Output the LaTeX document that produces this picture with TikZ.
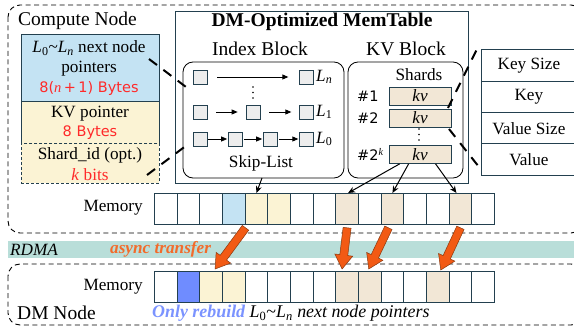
\documentclass[tikz,border=0pt]{standalone}
\usepackage{fontspec}
\setmainfont{Liberation Serif}
\newfontfamily\sfx{DejaVu Sans}
\usetikzlibrary{calc,arrows.meta}
\definecolor{edge}{HTML}{23404F}
\definecolor{bluebox}{HTML}{C4E3F3}
\definecolor{yell}{HTML}{FBF3D4}
\definecolor{beige}{HTML}{F2E7D6}
\definecolor{sqfill}{HTML}{EDEDED}
\definecolor{dmblue}{HTML}{6F8CFF}
\definecolor{rdma}{HTML}{B9DED9}
\definecolor{orangeA}{HTML}{F25A14}
\definecolor{orangeD}{HTML}{8A3A10}
\definecolor{redtxt}{HTML}{FF2A2A}
\definecolor{lightblue}{HTML}{7B93FF}
\definecolor{asyncor}{HTML}{F26B2B}
\newcommand\fH{\fontsize{19.5}{22}\selectfont}
\newcommand\fT{\fontsize{17.2}{20}\selectfont}
\newcommand\fB{\fontsize{17.9}{20}\selectfont}
\newcommand\fR{\fontsize{14.5}{17}\selectfont}
\newcommand\bigarrow[3]{%
  \coordinate (#3h) at ($(#2)!14pt!(#1)$);
  \fill[orangeA, draw=orangeD, line width=0.5pt, line join=miter]
   ($(#1)!4pt!90:(#2)$) -- ($(#3h)!4pt!-90:(#1)$) -- ($(#3h)!9pt!-90:(#1)$) -- (#2)
   -- ($(#3h)!9pt!90:(#1)$) -- ($(#3h)!4pt!90:(#1)$) -- ($(#1)!4pt!-90:(#2)$) -- cycle;
}
\tikzset{
  txt/.style={inner sep=0pt, font=\fT},
  head/.style={inner sep=0pt, font=\fH},
  redt/.style={inner sep=0pt, font=\sfx\fR, text=redtxt},
  box/.style={draw=edge, line width=0.8pt, inner sep=0pt, anchor=north west},
  blk/.style={draw=black, line width=0.8pt, rounded corners=10pt},
  sqr/.style={draw=edge, fill=sqfill, line width=0.7pt, minimum size=14pt, inner sep=0pt},
  cell/.style={draw=edge, line width=0.8pt, minimum width=22.67pt, minimum height=31pt, inner sep=0pt, anchor=north west, fill=white},
  kvbox/.style={draw=edge, fill=beige, line width=0.8pt, minimum width=62pt, minimum height=18pt, inner sep=0pt, font=\fT\itshape},
  sarr/.style={-{Triangle[length=6pt,width=5pt]}, line width=0.8pt},
  marr/.style={-{Stealth[length=7pt,width=6pt]}, line width=1pt},
  zoomline/.style={line width=2pt, dash pattern=on 10pt off 8pt},
  outer/.style={draw=black, line width=0.9pt, dash pattern=on 5pt off 3.5pt, rounded corners=12pt},
}
\begin{document}
\begin{tikzpicture}[x=1pt,y=-1pt]
\useasboundingbox (0,0) rectangle (574,329);
% compute node frame
\draw[outer] (8,5) rectangle (583,233);
\node[head, anchor=west] (cnlabel) at (18,20.5) {Compute Node};
% left stack
\node[box, fill=bluebox, minimum width=138pt, minimum height=67pt] (ptr) at (21,34) {};
\node[box, fill=yell, minimum width=138pt, minimum height=42pt] (kvp) at (21,101) {};
\node[box, fill=yell, dash pattern=on 3pt off 2pt, line width=0.7pt, minimum width=138pt, minimum height=40pt] (sid) at (21,143) {};
\node[txt] (ptrA) at (89,48) {\textit{L}\textsubscript{0}\textasciitilde\textit{L}\textsubscript{\textit{n}} next node};
\node[txt] (ptrB) at (89,69) {pointers};
\node[redt] (ptrC) at (89,89) {8(\textrm{\textit{n}}\,+\,1) Bytes};
\node[txt] (kvpA) at (90,114) {KV pointer};
\node[redt] (kvpB) at (90,133) {8 Bytes};
\node[txt] (sidA) at (90,155) {Shard\_id (opt.)};
\node[txt, text=redtxt] (sidB) at (90,175) {\textit{k} bits};
% memtable
\node[box, line width=1.1pt, minimum width=293pt, minimum height=172pt] (mt) at (175,11) {};
\node[head, font=\fH\bfseries] (mttitle) at (322,22) {DM-Optimized MemTable};
\node[head] (ibl) at (260,48.5) {Index Block};
\node[head] (kbl) at (406,48.5) {KV Block};
\draw[blk] (183,62) rectangle (344,178);
\draw[blk] (348,62) rectangle (463,178);
\coordinate (ibbot) at (262,178);
% skip list
\node[sqr] (n1) at (200,77) {};
\node[sqr] (n2) at (306.7,77) {};
\node[sqr] (a1) at (200,112) {};
\node[sqr] (a2) at (253,112) {};
\node[sqr] (a3) at (306.7,112) {};
\node[sqr] (b1) at (200,139) {};
\node[sqr] (b2) at (235.5,139) {};
\node[sqr] (b3) at (270.5,139) {};
\node[sqr] (b4) at (306.7,139) {};
\draw[sarr, shorten <=10pt, shorten >=11pt] (n1) -- (n2);
\draw[sarr, shorten <=9pt, shorten >=8pt] (a1) -- (a2);
\draw[sarr, shorten <=9pt, shorten >=8pt] (a2) -- (a3);
\draw[sarr, shorten <=1pt, shorten >=1pt] (b1) -- (b2);
\draw[sarr, shorten <=1pt, shorten >=1pt] (b2) -- (b3);
\draw[sarr, shorten <=1pt, shorten >=1pt] (b3) -- (b4);
\foreach \yy in {87,92.5,98} \fill (253,\yy) circle (0.9pt);
\node[txt, anchor=west] (ln) at (316,77) {\textit{L}\textsubscript{\textit{n}}};
\node[txt, anchor=west] (l1) at (316,112) {\textit{L}\textsubscript{1}};
\node[txt, anchor=west] (l0) at (316,139) {\textit{L}\textsubscript{0}};
\node[txt] (skl) at (261,163) {Skip-List};
% kv block
\node[txt] (shards) at (419,75) {Shards};
\node[kvbox] (kv1) at (420,96) {kv};
\node[kvbox] (kv2) at (420,118) {kv};
\node[kvbox] (kvk) at (420,154.5) {kv};
\node[inner sep=0pt, font=\sfx\fR, anchor=west] (h1) at (357,96) {\#1};
\node[inner sep=0pt, font=\sfx\fR, anchor=west] (h2) at (357,118) {\#2};
\node[inner sep=0pt, font=\sfx\fR, anchor=west] (hk) at (357,154.5) {\#2\textsuperscript{\textrm{\textit{k}}}};
\foreach \yy in {129,134.5,140} \fill (419,\yy) circle (0.9pt);
% right stack
\node[box, fill=white, minimum width=95pt, minimum height=31.4pt] (r1) at (481,49.3) {};
\node[box, fill=white, minimum width=95pt, minimum height=31.4pt] (r2) at (481,80.7) {};
\node[box, fill=white, minimum width=95pt, minimum height=31.4pt] (r3) at (481,112.1) {};
\node[box, fill=white, minimum width=95pt, minimum height=31.4pt] (r4) at (481,143.5) {};
\node[txt] at (r1.center) {Key Size};
\node[txt] at (r2.center) {Key};
\node[txt] at (r3.center) {Value Size};
\node[txt] at (r4.center) {Value};
% zoom dashed lines
\coordinate (zl1a) at (149,59); \coordinate (zl1b) at (190,90);
\coordinate (zl2a) at (147,175); \coordinate (zl2b) at (187,145);
\coordinate (zr1a) at (448,108); \coordinate (zr1b) at (478,47);
\coordinate (zr2a) at (449,129); \coordinate (zr2b) at (479,167);
\draw[zoomline] (zl1a) -- (zl1b);
\draw[zoomline] (zl2a) -- (zl2b);
\draw[zoomline] (zr1a) -- (zr1b);
\draw[zoomline] (zr2a) -- (zr2b);
% memory rows
\foreach \i in {0,...,14} {
  \node[cell] (m\i) at ({154+22.67*\i},193) {};
  \node[cell] (d\i) at ({154+22.67*\i},271) {};
}
\foreach \i in {4,5} \node[cell, fill=yell] at ({154+22.67*\i},193) {};
\node[cell, fill=bluebox] at ({154+22.67*3},193) {};
\foreach \i in {8,10,13} \node[cell, fill=beige] at ({154+22.67*\i},193) {};
\node[cell, fill=dmblue] at ({154+22.67*1},271) {};
\foreach \i in {2,3} \node[cell, fill=yell] at ({154+22.67*\i},271) {};
\foreach \i in {8,9,12} \node[cell, fill=beige] at ({154+22.67*\i},271) {};
\node[txt, anchor=east] (memc) at (143,208) {Memory};
% black arrows to memory
\draw[marr] (ibbot) -- (m4.north);
\draw[marr] ($(kvk.south west)+(11,0)$) -- ($(m8.north)+(1,0)$);
\draw[marr] ($(kvk.south west)+(20,0)$) -- (m10.north);
\draw[marr] ($(kvk.south west)+(47,0)$) -- ($(m13.north)+(-4,0)$);
% RDMA band
\fill[rdma] (8,241) rectangle (574,258);
\node[txt, anchor=west, font=\fT\itshape] (rdmal) at (10,249.5) {RDMA};
\node[txt, anchor=west, font=\fT\bfseries\itshape, text=asyncor] (asyncl) at (110,249) {async transfer};
% DM node frame
\draw[outer] (8,264) rectangle (583,325);
\node[txt, anchor=east] (memd) at (143,287) {Memory};
\node[head, anchor=west] (dml) at (17,313) {DM Node};
\node[inner sep=0pt, font=\fB, anchor=west] (rebl) at (152,313.5) {{\color{lightblue}\bfseries\itshape Only rebuild} \textit{L}\textsubscript{0}\textasciitilde\textit{L}\textsubscript{\textit{n}} \textit{next node pointers}};
% orange arrows
\coordinate (o1s) at ($(m3.south east)+(0,3)$); \coordinate (o1e) at ($(d2.north)+(4,-2)$);
\coordinate (o2s) at ($(m8.south)+(0,3)$);      \coordinate (o2e) at ($(d8.north)+(-5,-2)$);
\coordinate (o3s) at ($(m10.south)+(-4,3)$);    \coordinate (o3e) at ($(d9.north)+(-1,-2)$);
\coordinate (o4s) at ($(m13.south)+(0,3)$);     \coordinate (o4e) at ($(d12.north)+(3,-1)$);
\bigarrow{o1s}{o1e}{oa}
\bigarrow{o2s}{o2e}{ob}
\bigarrow{o3s}{o3e}{oc}
\bigarrow{o4s}{o4e}{od}
\end{tikzpicture}
\end{document}
